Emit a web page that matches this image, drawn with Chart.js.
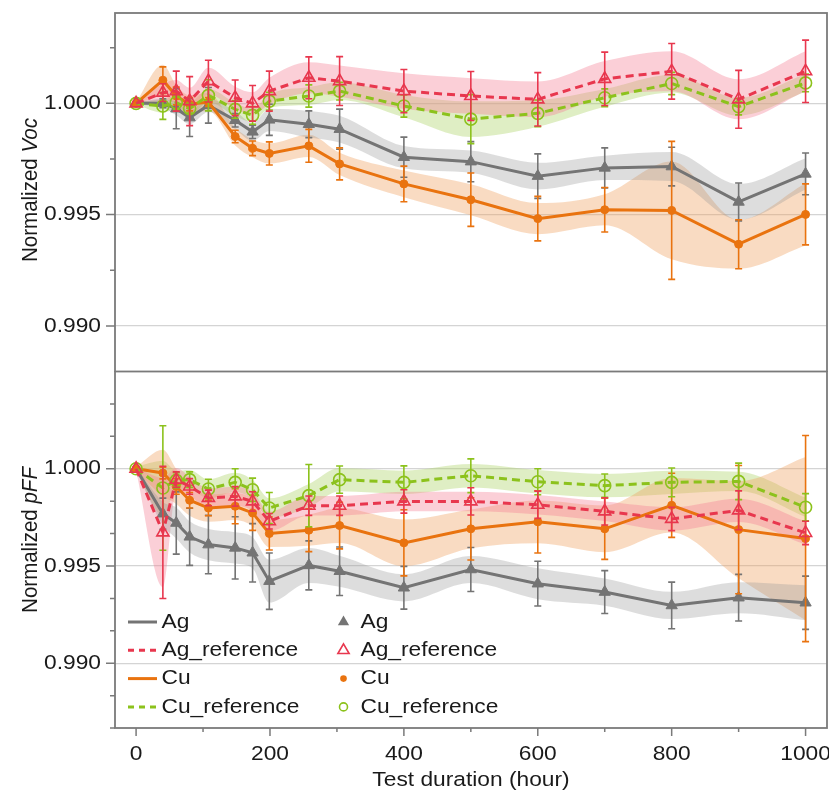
<!DOCTYPE html>
<html>
<head>
<meta charset="utf-8">
<script src="https://cdn.jsdelivr.net/npm/chart.js@4.4.0/dist/chart.umd.min.js"></script>
<style>
  html, body { margin: 0; padding: 0; background: #fff; }
  #wrap { position: relative; width: 829px; height: 792px; }
  canvas { position: absolute; left: 0; }
</style>
</head>
<body>
<div id="wrap">
  <canvas id="vocChart" width="829" height="372" style="top:0"></canvas>
  <canvas id="pffChart" width="829" height="421" style="top:371px"></canvas>
</div>
<script>
// test duration (hour)
const hours = [0, 40, 60, 80, 108, 148, 174, 199, 258, 304, 400, 500, 600, 700, 800, 900, 1000];

// ticks
const xMajor = [0, 200, 400, 600, 800, 1000];
const xMinor = [100, 300, 500, 700, 900];
const vocMajor = [0.990, 0.995, 1.000];
const vocMinor = [0.9925, 0.9975, 1.0025];
const pffMajor = [0.990, 0.995, 1.000];
const pffMinor = [0.98667, 0.98833, 0.99167, 0.99333, 0.99667, 0.99833, 1.00167, 1.00333];

// Normalized Voc
const vocAg      = [1.0000, 1.0000, 0.99976, 0.99936, 0.99991, 0.99924, 0.99872, 0.99926, 0.99906, 0.99884, 0.99758, 0.99738, 0.99673, 0.99710, 0.99716, 0.99557, 0.99683];
const vocAgErr   = [0, 0.0002, 0.0009, 0.00085, 0.0008, 0.0003, 0.0003, 0.0007, 0.0006, 0.0009, 0.0009, 0.0009, 0.0010, 0.0009, 0.00087, 0.00085, 0.00094];
const vocAgBand  = [0.00005, 0.0002, 0.0003, 0.0003, 0.0003, 0.0004, 0.0004, 0.0005, 0.0006, 0.0006, 0.0005, 0.0005, 0.0006, 0.00055, 0.00065, 0.0008, 0.0007];

const vocAgRef     = [1.0000, 1.00048, 1.00055, 1.0001, 1.0010, 1.00025, 1.0000, 1.00055, 1.00115, 1.0010, 1.00055, 1.00033, 1.00018, 1.0011, 1.00144, 1.00018, 1.00144];
const vocAgRefErr  = [0, 0.0004, 0.0009, 0.0011, 0.00094, 0.0008, 0.0008, 0.0009, 0.00094, 0.0011, 0.00097, 0.0011, 0.0012, 0.0012, 0.00125, 0.0013, 0.0014];
const vocAgRefBand = [0.00005, 0.0004, 0.0005, 0.0006, 0.0006, 0.0005, 0.0005, 0.0006, 0.0007, 0.0007, 0.0008, 0.0008, 0.0008, 0.0008, 0.0009, 0.0009, 0.0009];

const vocCu      = [1.0000, 1.00104, 1.00033, 0.99996, 1.00006, 0.99851, 0.99798, 0.99775, 0.99809, 0.99728, 0.99638, 0.99567, 0.99482, 0.99522, 0.99519, 0.99367, 0.99501];
const vocCuErr   = [0, 0.0006, 0.0004, 0.0003, 0.0002, 0.00028, 0.00033, 0.00052, 0.00074, 0.00072, 0.0008, 0.0012, 0.0010, 0.0010, 0.0031, 0.0011, 0.00137];
const vocCuBand  = [0.00005, 0.0007, 0.0005, 0.0004, 0.0004, 0.0004, 0.0004, 0.00045, 0.0005, 0.0005, 0.0006, 0.0007, 0.0007, 0.0007, 0.0022, 0.0011, 0.0014];

const vocCuRef     = [1.0000, 0.99988, 1.00003, 0.99976, 1.00036, 0.99973, 0.99946, 1.0001, 1.00033, 1.00055, 0.99988, 0.99929, 0.99955, 1.00025, 1.00089, 0.99985, 1.00092];
const vocCuRefErr  = [0, 0.0006, 0.0003, 0.0002, 0.0007, 0.0004, 0.0004, 0.0004, 0.0005, 0.0004, 0.0005, 0.0011, 0.0006, 0.0004, 0.0005, 0.00037, 0.0004];
const vocCuRefBand = [0.00005, 0.0003, 0.0003, 0.0003, 0.0003, 0.0003, 0.0003, 0.0003, 0.0004, 0.0004, 0.0005, 0.0008, 0.0006, 0.0004, 0.0004, 0.0004, 0.0004];

// Normalized pFF
const pffAg      = [1.0000, 0.99769, 0.99721, 0.99650, 0.99610, 0.99593, 0.99568, 0.99422, 0.99503, 0.99473, 0.99388, 0.99482, 0.99409, 0.99366, 0.99297, 0.99337, 0.99311];
const pffAgErr   = [0, 0.0008, 0.0016, 0.00147, 0.0015, 0.0016, 0.0015, 0.00145, 0.00126, 0.00125, 0.0011, 0.00113, 0.00115, 0.0011, 0.0012, 0.0012, 0.00137];
const pffAgBand  = [0.0001, 0.0006, 0.0008, 0.0008, 0.0008, 0.0008, 0.0008, 0.0011, 0.0009, 0.0008, 0.0007, 0.0007, 0.0008, 0.0007, 0.0007, 0.0008, 0.0009];

const pffAgRef     = [1.0000, 0.99673, 0.99944, 0.99909, 0.99850, 0.99858, 0.99832, 0.99730, 0.99810, 0.99810, 0.99832, 0.99832, 0.99815, 0.99781, 0.99742, 0.99786, 0.99670];
const pffAgRefErr  = [0, 0.0034, 0.0004, 0.0004, 0.0004, 0.0005, 0.0005, 0.0004, 0.0005, 0.0005, 0.0006, 0.0007, 0.0007, 0.0007, 0.0006, 0.0010, 0.0006];
const pffAgRefBand = [0.0001, 0.0028, 0.0006, 0.0005, 0.0005, 0.0005, 0.0005, 0.0005, 0.0005, 0.0005, 0.0005, 0.0005, 0.0005, 0.0005, 0.0006, 0.0006, 0.0006];

const pffCu      = [1.0000, 0.99978, 0.99909, 0.99838, 0.99798, 0.99807, 0.99773, 0.99667, 0.99684, 0.99708, 0.99619, 0.99691, 0.99727, 0.99691, 0.99812, 0.99687, 0.99641];
const pffCuErr   = [0, 0.0003, 0.0004, 0.0004, 0.0004, 0.0009, 0.0009, 0.00085, 0.0011, 0.0012, 0.0017, 0.0016, 0.0016, 0.00157, 0.00165, 0.0033, 0.0053];
const pffCuBand  = [0.0001, 0.0012, 0.0009, 0.0008, 0.0007, 0.0007, 0.0007, 0.0007, 0.0008, 0.0009, 0.0012, 0.0010, 0.0011, 0.0012, 0.0014, 0.0025, 0.0042];

const pffCuRef     = [1.0000, 0.99901, 0.99940, 0.99944, 0.99896, 0.99930, 0.99892, 0.99798, 0.99862, 0.99944, 0.99930, 0.99964, 0.99933, 0.99913, 0.99930, 0.99935, 0.99802];
const pffCuRefErr  = [0, 0.0032, 0.0004, 0.0004, 0.0005, 0.0007, 0.0006, 0.0008, 0.0016, 0.0007, 0.00085, 0.00087, 0.00067, 0.0006, 0.00074, 0.00094, 0.0007];
const pffCuRefBand = [0.0001, 0.0014, 0.0005, 0.0005, 0.0005, 0.0005, 0.0005, 0.0005, 0.0006, 0.0006, 0.0006, 0.0006, 0.0006, 0.0006, 0.0006, 0.0005, 0.0005];

const FONT = "'Liberation Sans', Arial, sans-serif";
const STRETCH = 1.11;
Chart.defaults.font.family = FONT;

// series look, same order as the value lists passed to buildDatasets
const styles = [
  {name: 'Ag',           line: '#747474', band: 'rgba(150,150,150,0.32)', dash: [],     pointStyle: 'triangle', radius: 6.5, filled: true,  order: 4},
  {name: 'Ag_reference', line: '#e8374e', band: 'rgba(245,130,150,0.38)', dash: [8, 5], pointStyle: 'triangle', radius: 7,   filled: false, order: 1},
  {name: 'Cu',           line: '#e9730f', band: 'rgba(240,160,95,0.38)',  dash: [],     pointStyle: 'circle',   radius: 4,   filled: true,  order: 3},
  {name: 'Cu_reference', line: '#8cc21c', band: 'rgba(170,210,100,0.38)', dash: [8, 5], pointStyle: 'circle',   radius: 6,   filled: false, order: 2},
];

function buildDatasets(vals, errs, bands) {
  const ds = [];
  styles.forEach((s, k) => {
    const common = {borderColor: 'transparent', borderWidth: 0, pointRadius: 0, cubicInterpolationMode: 'monotone', order: 20};
    ds.push({...common, data: hours.map((h, i) => ({x: h, y: vals[k][i] + bands[k][i]})), fill: false});
    ds.push({...common, data: hours.map((h, i) => ({x: h, y: vals[k][i] - bands[k][i]})), fill: '-1', backgroundColor: s.band});
  });
  styles.forEach((s, k) => {
    ds.push({
      label: s.name,
      data: hours.map((h, i) => ({x: h, y: vals[k][i]})),
      errs: errs[k],
      borderColor: s.line,
      borderWidth: 3,
      borderDash: s.dash,
      pointStyle: s.pointStyle,
      pointRadius: s.radius,
      pointBorderColor: s.line,
      pointBackgroundColor: s.filled ? s.line : 'rgba(0,0,0,0)',
      pointBorderWidth: s.filled ? 1 : 1.6,
      tension: 0,
      fill: false,
      order: s.order,
    });
  });
  return ds;
}

// error bars, drawn right before the line of each series
const errorBars = {
  id: 'errorBars',
  beforeDatasetDraw(chart, args) {
    const ds = chart.data.datasets[args.index];
    if (!ds.errs) return;
    const {ctx, chartArea: a, scales: {x, y}} = chart;
    ctx.save();
    ctx.beginPath();
    ctx.rect(a.left, a.top, a.right - a.left, a.bottom - a.top);
    ctx.clip();
    ctx.strokeStyle = ds.borderColor;
    ctx.lineWidth = 1.6;
    ds.data.forEach((p, i) => {
      const e = ds.errs[i];
      if (!e) return;
      const px = x.getPixelForValue(p.x);
      const y1 = y.getPixelForValue(p.y + e);
      const y2 = y.getPixelForValue(p.y - e);
      ctx.beginPath();
      ctx.moveTo(px, y1); ctx.lineTo(px, y2);
      ctx.moveTo(px - 3.5, y1); ctx.lineTo(px + 3.5, y1);
      ctx.moveTo(px - 3.5, y2); ctx.lineTo(px + 3.5, y2);
      ctx.stroke();
    });
    ctx.restore();
  }
};

function text(ctx, str, x, y, align, size, style) {
  ctx.save();
  ctx.font = (style || '') + ' ' + size + 'px ' + FONT;
  ctx.textBaseline = 'middle';
  ctx.textAlign = 'left';
  ctx.fillStyle = '#1a1a1a';
  const w = ctx.measureText(str).width * STRETCH;
  const x0 = align === 'right' ? x - w : align === 'center' ? x - w / 2 : x;
  ctx.translate(x0, y);
  ctx.scale(STRETCH, 1);
  ctx.fillText(str, 0, 0);
  ctx.restore();
}

function yTitle(ctx, cx, cy, plain, ital) {
  ctx.save();
  ctx.translate(cx, cy);
  ctx.rotate(-Math.PI / 2);
  ctx.scale(1, STRETCH);
  ctx.textBaseline = 'middle';
  ctx.fillStyle = '#1a1a1a';
  const f1 = '20.5px ' + FONT, f2 = 'italic 20.5px ' + FONT;
  ctx.font = f1; const w1 = ctx.measureText(plain).width;
  ctx.font = f2; const w2 = ctx.measureText(ital).width;
  const x0 = -(w1 + w2) / 2;
  ctx.font = f1; ctx.fillText(plain, x0, 0);
  ctx.font = f2; ctx.fillText(ital, x0 + w1, 0);
  ctx.restore();
}

function marker(ctx, s, x, y, r) {
  ctx.save();
  ctx.strokeStyle = s.line;
  ctx.fillStyle = s.line;
  ctx.lineWidth = 1.6;
  ctx.beginPath();
  if (s.pointStyle === 'triangle') {
    for (let k = 0; k < 3; k++) {
      const ang = k * 2 * Math.PI / 3;
      const px = x + Math.sin(ang) * r, py = y - Math.cos(ang) * r;
      k === 0 ? ctx.moveTo(px, py) : ctx.lineTo(px, py);
    }
    ctx.closePath();
  } else {
    ctx.arc(x, y, r, 0, Math.PI * 2);
  }
  s.filled ? ctx.fill() : ctx.stroke();
  ctx.restore();
}

// frame, ticks, tick labels, titles and legend
const panel = {
  id: 'panel',
  afterDraw(chart, args, o) {
    const {ctx, chartArea: a, scales: {x, y}} = chart;
    ctx.save();
    ctx.strokeStyle = '#7a7a7a';
    ctx.lineWidth = 1.5;
    ctx.beginPath();
    o.yMajor.forEach(v => { const p = y.getPixelForValue(v); ctx.moveTo(a.left - 9, p); ctx.lineTo(a.left, p); });
    o.yMinor.forEach(v => { const p = y.getPixelForValue(v); ctx.moveTo(a.left - 5, p); ctx.lineTo(a.left, p); });
    if (o.xAxis) {
      xMajor.forEach(v => { const p = x.getPixelForValue(v); ctx.moveTo(p, a.bottom); ctx.lineTo(p, a.bottom + 8); });
      xMinor.forEach(v => { const p = x.getPixelForValue(v); ctx.moveTo(p, a.bottom); ctx.lineTo(p, a.bottom + 4); });
    }
    ctx.stroke();
    ctx.lineWidth = 1.8;
    ctx.strokeRect(a.left, a.top, a.right - a.left, a.bottom - a.top);
    ctx.restore();

    o.yMajor.forEach(v => text(ctx, v.toFixed(3), 101, y.getPixelForValue(v), 'right', 20.5));
    yTitle(ctx, 31, o.titleY, o.title[0], o.title[1]);

    if (o.xAxis) {
      xMajor.forEach(v => text(ctx, String(v), x.getPixelForValue(v), a.bottom + 26.5, 'center', 20.5));
      text(ctx, 'Test duration (hour)', (a.left + a.right) / 2, a.bottom + 52, 'center', 20.5);
    }

    if (o.legend) {
      const rows = [251, 279.3, 307.6, 335.9];
      styles.forEach((s, k) => {
        const ry = rows[k];
        ctx.save();
        ctx.strokeStyle = s.line;
        ctx.lineWidth = 3;
        ctx.setLineDash(s.dash.length ? [6, 5] : []);
        ctx.beginPath();
        ctx.moveTo(128, ry); ctx.lineTo(157, ry);
        ctx.stroke();
        ctx.restore();
        text(ctx, s.name, 161.5, ry, 'left', 20.5);
        marker(ctx, s, 343.5, ry, s.pointStyle === 'triangle' ? 6.5 : (s.filled ? 3.3 : 4));
        text(ctx, s.name, 360.5, ry, 'left', 20.5);
      });
    }
  }
};

const xMin = -31.5, xMax = 1032;

function makeChart(id, datasets, cfg) {
  const xScale = {
    type: 'linear', min: xMin, max: xMax, display: cfg.xAxis,
    afterBuildTicks: s => { s.ticks = xMajor.map(v => ({value: v})); },
    grid: {display: false, drawTicks: false},
    border: {display: false},
    ticks: {display: false}
  };
  if (cfg.xAxis) xScale.afterFit = s => { s.height = 64; };
  return new Chart(document.getElementById(id), {
    type: 'line',
    data: {datasets},
    options: {
      responsive: false,
      animation: false,
      devicePixelRatio: 1,
      events: [],
      layout: {padding: cfg.padding, autoPadding: false},
      plugins: {
        legend: {display: false},
        tooltip: {enabled: false},
        filler: {propagate: false, drawTime: 'beforeDatasetsDraw'},
        panel: cfg.panel
      },
      scales: {
        x: xScale,
        y: {
          type: 'linear', min: cfg.yMin, max: cfg.yMax,
          afterFit: s => { s.width = 115; },
          afterBuildTicks: s => { s.ticks = cfg.yMajor.map(v => ({value: v})); },
          grid: {color: '#d4d4d4', lineWidth: 1.3, drawTicks: false},
          border: {display: false},
          ticks: {display: false}
        }
      }
    },
    plugins: [errorBars, panel]
  });
}

makeChart('vocChart',
  buildDatasets([vocAg, vocAgRef, vocCu, vocCuRef], [vocAgErr, vocAgRefErr, vocCuErr, vocCuRefErr], [vocAgBand, vocAgRefBand, vocCuBand, vocCuRefBand]),
  {xAxis: false, yMin: 0.98795, yMax: 1.00406, yMajor: vocMajor, padding: {top: 13, right: 2, bottom: 0.5, left: 0},
   panel: {yMajor: vocMajor, yMinor: vocMinor, xAxis: false, legend: false, title: ['Normalized ', 'Voc'], titleY: 190}});

makeChart('pffChart',
  buildDatasets([pffAg, pffAgRef, pffCu, pffCuRef], [pffAgErr, pffAgRefErr, pffCuErr, pffCuRefErr], [pffAgBand, pffAgRefBand, pffCuBand, pffCuRefBand]),
  {xAxis: true, yMin: 0.98667, yMax: 1.0050, yMajor: pffMajor, padding: {top: 0.5, right: 2, bottom: 0, left: 0},
   panel: {yMajor: pffMajor, yMinor: pffMinor, xAxis: true, legend: true, title: ['Normalized ', 'pFF'], titleY: 169}});
</script>
</body>
</html>
